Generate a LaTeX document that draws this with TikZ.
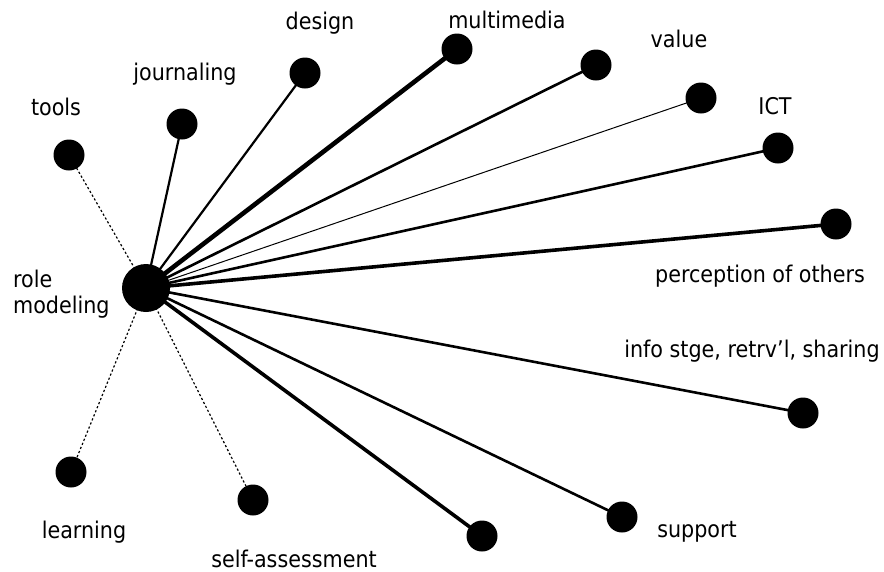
\documentclass[tikz,border=0pt]{standalone}
\usepackage{fontspec}
\setmainfont{DejaVu Sans Condensed}
\begin{document}
\begin{tikzpicture}[x=1pt,y=-1pt,
  hub/.style={circle,fill=black,inner sep=0pt,minimum size=48pt},
  leaf/.style={circle,fill=black,inner sep=0pt,minimum size=31pt},
  lbl/.style={font=\fontsize{23}{26}\selectfont,inner sep=0pt,anchor=base},
  weak/.style={line width=1.2pt,dash pattern=on 2.2pt off 2.2pt},
  hair/.style={line width=1pt},
  mid/.style={line width=2.2pt},
  midplus/.style={line width=2.6pt},
  heavy/.style={line width=3.6pt},
  heaviest/.style={line width=4.6pt}]
\useasboundingbox (0,0) rectangle (884,571);

% hub and satellites
\coordinate (hc) at (146,288);
\coordinate (ptools) at (69,155);
\coordinate (pjour) at (182,124);
\coordinate (pdes) at (305,73);
\coordinate (pmm) at (457,49);
\coordinate (pval) at (596,65);
\coordinate (pthin) at (701,98);
\coordinate (pict) at (778,148);
\coordinate (pperc) at (836,224);
\coordinate (pinfo) at (803,413);
\coordinate (psup) at (622,517);
\coordinate (pbot) at (482,536);
\coordinate (pself) at (253,500);
\coordinate (plearn) at (71,472);

% connectors (drawn first so the discs cover their ends)
\draw[weak] (hc) -- (ptools);
\draw[mid] (hc) -- (pjour);
\draw[mid] (hc) -- (pdes);
\draw[heaviest] (hc) -- (pmm);
\draw[midplus] (hc) -- (pval);
\draw[hair] (hc) -- (pthin);
\draw[midplus] (hc) -- (pict);
\draw[heavy] (hc) -- (pperc);
\draw[midplus] (hc) -- (pinfo);
\draw[midplus] (hc) -- (psup);
\draw[heavy] (hc) -- (pbot);
\draw[weak] (hc) -- (pself);
\draw[weak] (hc) -- (plearn);

% discs
\node[hub] (hub) at (hc) {};
\foreach \p in {ptools,pjour,pdes,pmm,pval,pthin,pict,pperc,pinfo,psup,pbot,pself,plearn}
  \node[leaf] (n\p) at (\p) {};

% labels
\node[lbl] (ltools) at (56,115) {tools};
\node[lbl] (ljour) at (185,80) {journaling};
\node[lbl] (ldes) at (320,29) {design};
\node[lbl] (lmm) at (507,28) {multimedia};
\node[lbl] (lval) at (679,47) {value};
\node[lbl] (lict) at (775,114) {ICT};
\node[lbl] (lperc) at (760,282) {perception of others};
\node[lbl] (linfo) at (752,357) {info stge, retrv'l, sharing};
\node[lbl] (lsup) at (697,537) {support};
\node[lbl] (llearn) at (84,538) {learning};
\node[lbl] (lself) at (294,567) {self-assessment};
% two-line label: base anchor sits on the last line's baseline
\node[lbl,anchor=base west,align=left] (lrole) at (13,313) {role\\modeling};
\end{tikzpicture}
\end{document}
